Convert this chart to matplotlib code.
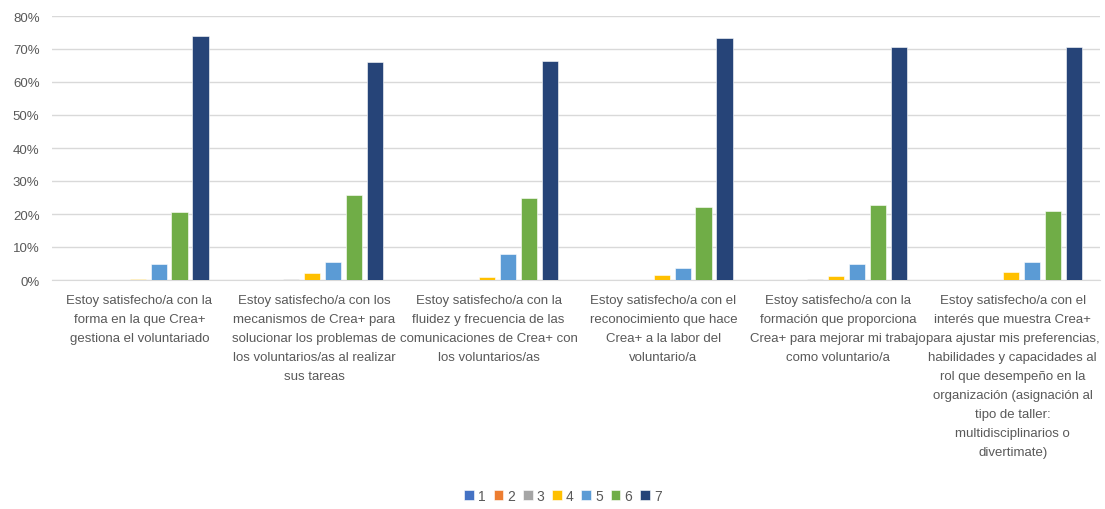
import matplotlib.pyplot as plt
import numpy as np
from matplotlib.ticker import PercentFormatter

categories = [
    "Estoy satisfecho/a con la\nforma en la que Crea+\ngestiona el voluntariado",
    "Estoy satisfecho/a con los\nmecanismos de Crea+ para\nsolucionar los problemas de\nlos voluntarios/as al realizar\nsus tareas",
    "Estoy satisfecho/a con la\nfluidez y frecuencia de las\ncomunicaciones de Crea+ con\nlos voluntarios/as",
    "Estoy satisfecho/a con el\nreconocimiento que hace\nCrea+ a la labor del\nvoluntario/a",
    "Estoy satisfecho/a con la\nformación que proporciona\nCrea+ para mejorar mi trabajo\ncomo voluntario/a",
    "Estoy satisfecho/a con el\ninterés que muestra Crea+\npara ajustar mis preferencias,\nhabilidades y capacidades al\nrol que desempeño en la\norganización (asignación al\ntipo de taller:\nmultidisciplinarios o\ndivertimate)",
]
series_names = ["1", "2", "3", "4", "5", "6", "7"]
s1 = [0.0, 0.0, 0.0, 0.0, 0.0, 0.0]
s2 = [0.0, 0.0, 0.0, 0.0, 0.0, 0.0]
s3 = [0.0, 0.4, 0.0, 0.0, 0.4, 0.0]
s4 = [0.3, 2.0, 0.9, 1.5, 1.2, 2.4]
s5 = [4.8, 5.6, 7.8, 3.5, 5.0, 5.6]
s6 = [20.5, 25.7, 25.0, 22.0, 22.7, 21.0]
s7 = [74.0, 66.0, 66.3, 73.3, 70.7, 70.7]
series = [s1, s2, s3, s4, s5, s6, s7]
colors = ["#4472C4", "#ED7D31", "#A5A5A5", "#FFC000", "#5B9BD5", "#70AD47", "#264478"]

plt.rcParams['font.family'] = ['Liberation Sans', 'DejaVu Sans']

fig = plt.figure(figsize=(11.05, 5.10), dpi=100)
ax = fig.add_axes([52/1105, 1-281/510, 1048/1105, 264/510])

x = np.arange(len(categories))
step = 0.12
width = 0.092
for i, (name, vals) in enumerate(zip(series_names, series)):
    offs = (i - 3) * step - 0.01
    ax.bar(x + offs, vals, width, color=colors[i], label=name,
           edgecolor="white", linewidth=0.4, zorder=3)

ax.set_xlim(-0.5, len(categories) - 0.5)
ax.set_ylim(0, 80)
ax.set_yticks(range(0, 81, 10))
ax.yaxis.set_major_formatter(PercentFormatter(decimals=0))
ax.grid(axis='y', color="#d9d9d9", linewidth=1, zorder=0)
for sp in ["top", "right", "left"]:
    ax.spines[sp].set_visible(False)
ax.spines["bottom"].set_color("#d9d9d9")
ax.tick_params(axis='both', length=0, colors="#595959", labelsize=9.5)
ax.tick_params(axis='y', pad=9)
ax.set_xticks(x)
ax.set_xticklabels(categories, linespacing=1.78)
ax.tick_params(axis='x', pad=10)

leg = fig.legend(loc="center", bbox_to_anchor=(563/1105, 1-497/510), ncol=7,
                 frameon=False, handlelength=0.7, handleheight=0.7,
                 handletextpad=0.3, columnspacing=0.55, fontsize=10)
for t in leg.get_texts():
    t.set_color("#595959")

fig.savefig("out.png", dpi=100)
